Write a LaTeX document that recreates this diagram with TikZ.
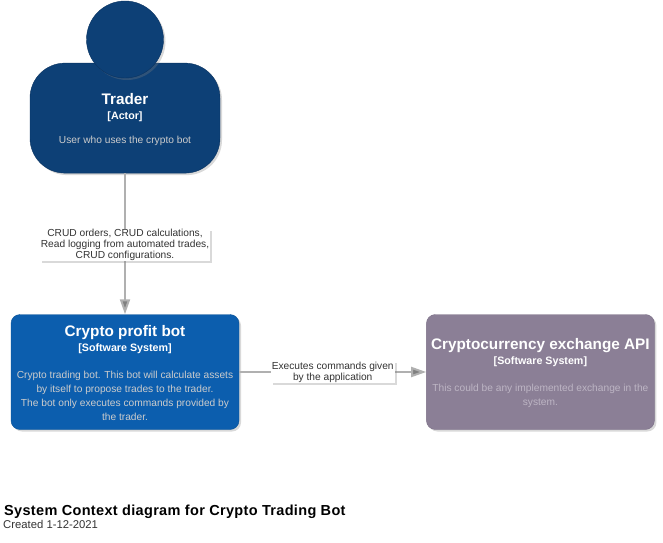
\documentclass[tikz,border=0pt]{standalone}
\usepackage{fontspec}
\setmainfont{Liberation Sans}
\newfontfamily\captionfont[LetterSpace=2.3]{Liberation Sans}
\usepackage{xcolor}
\usetikzlibrary{arrows.meta,positioning,shadows}
\definecolor{actorblue}{HTML}{0D4076}
\definecolor{actorbluedark}{HTML}{0A3360}
\definecolor{botblue}{HTML}{0C5EAE}
\definecolor{botbluedark}{HTML}{0A5296}
\definecolor{apigrey}{HTML}{8B7F96}
\definecolor{apigreydark}{HTML}{7C7087}
\definecolor{desclight}{HTML}{CCCCCC}
\definecolor{descapi}{HTML}{BDB5C4}
\definecolor{linegrey}{HTML}{B0B0B0}
\definecolor{tipgrey}{HTML}{808080}
\definecolor{labeltext}{HTML}{333333}
\tikzset{
  softshadow/.style={drop shadow={shadow xshift=2pt,shadow yshift=-2pt,opacity=.3}},
  sysbox/.style={rounded corners=9pt,minimum width=228pt,minimum height=115pt,align=center,text=white,font=\fontsize{10.2}{14}\selectfont,softshadow},
  rel/.style={draw=linegrey,line width=2pt,-{Triangle[length=15pt,width=10pt,fill=tipgrey]}},
  rellabel/.style={fill=white,text=labeltext,font=\fontsize{10.2}{11}\selectfont,align=center,inner xsep=1pt,inner ysep=0.5pt,softshadow},
}
\newcommand{\boxtitle}[1]{{\fontsize{15.3}{17}\selectfont\bfseries #1}}
\newcommand{\boxkind}[1]{{\fontsize{10.7}{14}\selectfont\bfseries #1}}
\begin{document}
\begin{tikzpicture}[x=1pt,y=1pt]
  \useasboundingbox (0,0) rectangle (663,542);
  \node[sysbox,fill=botblue,draw=botbluedark] (bot) at (125,170) {\boxtitle{\rule{0pt}{14pt}Crypto profit bot}\\[1pt]\boxkind{[Software System]}\\[13pt]\textcolor{desclight}{Crypto trading bot. This bot will calculate assets}\hspace*{4pt}\\\textcolor{desclight}{by itself to propose trades to the trader.}\hspace*{4pt}\\\textcolor{desclight}{The bot only executes commands provided by}\\\textcolor{desclight}{the trader.}};
  \node[sysbox,fill=apigrey,draw=apigreydark,right=187pt of bot] (api) {\boxtitle{\rule{0pt}{14pt}Cryptocurrency exchange API}\\[1pt]\boxkind{[Software System]}\\[13pt]\textcolor{descapi}{This could be any implemented exchange in the}\\\textcolor{descapi}{system.}};
  \node[sysbox,rounded corners=35pt,minimum width=190pt,minimum height=110pt,fill=actorblue,draw=actorbluedark,above=141pt of bot] (actor) {\boxtitle{\rule{0pt}{13pt}Trader}\\[1pt]\boxkind{[Actor]}\\[10pt]\textcolor{desclight}{User who uses the crypto bot}};
  \node[circle,minimum size=77pt,fill=actorblue,draw=actorbluedark,softshadow] (head) at (125,502.5) {};
  \draw[rel] (actor) -- node[rellabel,yshift=-1pt] (orderslabel) {CRUD orders, CRUD calculations,\\Read logging from automated trades,\\CRUD configurations.} (bot);
  \draw[rel] (bot) -- node[rellabel] (commandslabel) {Executes commands given\\by the application} (api);
  \node[anchor=south west,inner sep=0pt,font=\fontsize{14.5}{16}\captionfont\bfseries] (title) at (4,23) {System Context diagram for Crypto Trading Bot};
  \node[anchor=north west,inner sep=0pt,font=\fontsize{11.3}{12}\selectfont,text=labeltext] (created) at (3,21.5) {Created 1-12-2021};
\end{tikzpicture}
\end{document}
